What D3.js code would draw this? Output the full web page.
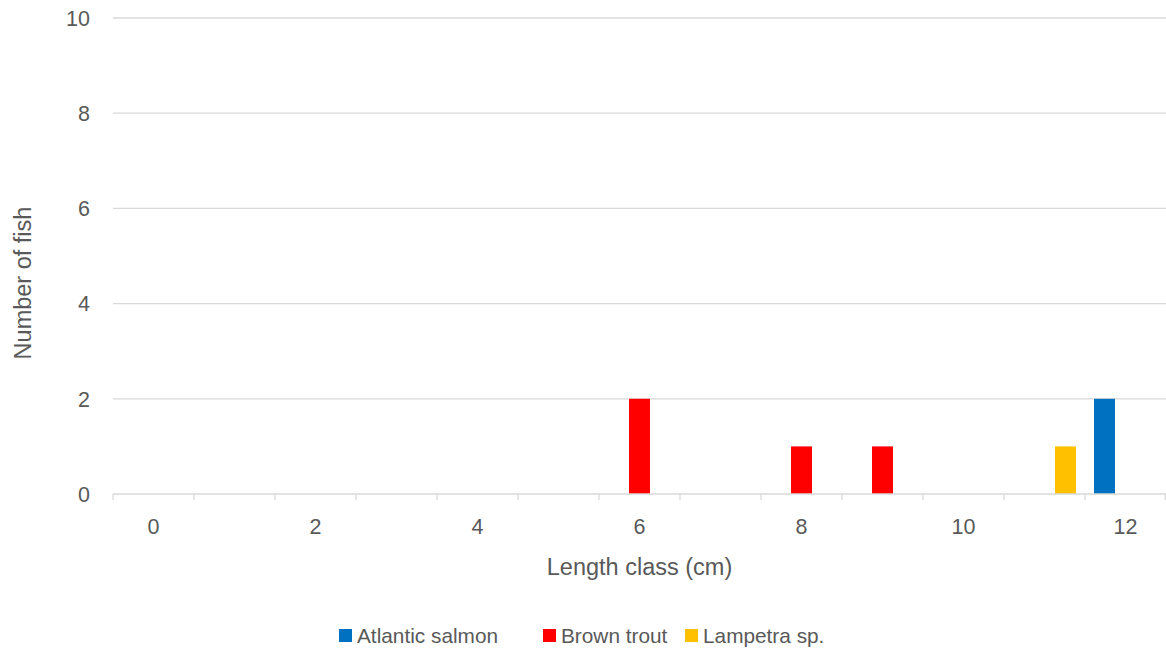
<!DOCTYPE html>
<html><head><meta charset="utf-8">
<script src="https://cdn.jsdelivr.net/npm/d3@7"></script>
<style>body{margin:0;background:#fff}text{font-family:"Liberation Sans",Arial,sans-serif;fill:#595959}</style>
</head><body><svg id="c" width="1166" height="653"></svg>
<script>
const categories = [0,1,2,3,4,5,6,7,8,9,10,11,12];
const tickLabels = [0,2,4,6,8,10,12];
const seriesNames = ["Atlantic salmon","Brown trout","Lampetra sp."];
const seriesColors = ["#0070C0","#FF0000","#FFC000"];
const atlanticSalmon = [0,0,0,0,0,0,0,0,0,0,0,0,2];
const brownTrout     = [0,0,0,0,0,0,2,0,1,1,0,0,0];
const lampetra       = [0,0,0,0,0,0,0,0,0,0,0,1,0];
const yTicks = [0,2,4,6,8,10];
const seriesValues = [atlanticSalmon, brownTrout, lampetra];

const svg = d3.select("#c");
const L = 113, R = 1166, T = 18, B = 494;
const x0 = d3.scaleBand().domain(categories).range([L,R]).paddingInner(0).paddingOuter(0);
const x1 = d3.scaleBand().domain(seriesNames).range([0,x0.bandwidth()]).paddingInner(0).paddingOuter(0.43);
const y = d3.scaleLinear().domain([0,10]).range([B,T]);

// gridlines
svg.append("g").selectAll("line").data(yTicks.filter(d=>d>0)).join("line")
  .attr("x1",L).attr("x2",R).attr("y1",d=>y(d)).attr("y2",d=>y(d))
  .attr("stroke","#d9d9d9").attr("stroke-width",1.3);

// y labels
svg.append("g").selectAll("text").data(yTicks).join("text")
  .attr("x",90).attr("y",d=>y(d)).attr("dy","0.36em").attr("text-anchor","end")
  .attr("font-size",21.5).text(d=>d);

// bars
const rows = [];
seriesValues.forEach((vals,si)=>vals.forEach((v,ci)=>{ if(v>0) rows.push({s:seriesNames[si],c:categories[ci],v,col:seriesColors[si]}); }));
svg.append("g").selectAll("rect").data(rows).join("rect")
  .attr("x",d=>x0(d.c)+x1(d.s)).attr("width",x1.bandwidth())
  .attr("y",d=>y(d.v)).attr("height",d=>y(0)-y(d.v)).attr("fill",d=>d.col);

// x axis line & ticks
svg.append("line").attr("x1",L).attr("x2",R).attr("y1",B).attr("y2",B).attr("stroke","#d9d9d9").attr("stroke-width",1.3);
const bounds = categories.map(c=>x0(c)).concat([R]);
svg.append("g").selectAll("line").data(bounds).join("line")
  .attr("x1",d=>Math.min(d,R-0.7)).attr("x2",d=>Math.min(d,R-0.7)).attr("y1",B).attr("y2",B+6)
  .attr("stroke","#d9d9d9").attr("stroke-width",1.3);

// x labels
svg.append("g").selectAll("text").data(tickLabels).join("text")
  .attr("x",d=>x0(d)+x0.bandwidth()/2).attr("y",534).attr("text-anchor","middle")
  .attr("font-size",21.5).text(d=>d);

// axis titles
svg.append("text").attr("x",(L+R)/2).attr("y",575).attr("text-anchor","middle").attr("font-size",23.5).text("Length class (cm)");
svg.append("text").attr("transform","translate(31,283) rotate(-90)").attr("text-anchor","middle").attr("font-size",23.5).text("Number of fish");

// legend
const lg = svg.append("g");
const legX = [339,543,685];
seriesNames.forEach((n,i)=>{
  lg.append("rect").attr("x",legX[i]).attr("y",629).attr("width",13).attr("height",13).attr("fill",seriesColors[i]);
  lg.append("text").attr("x",legX[i]+18).attr("y",643).attr("font-size",20.8).text(n);
});
</script></body></html>
